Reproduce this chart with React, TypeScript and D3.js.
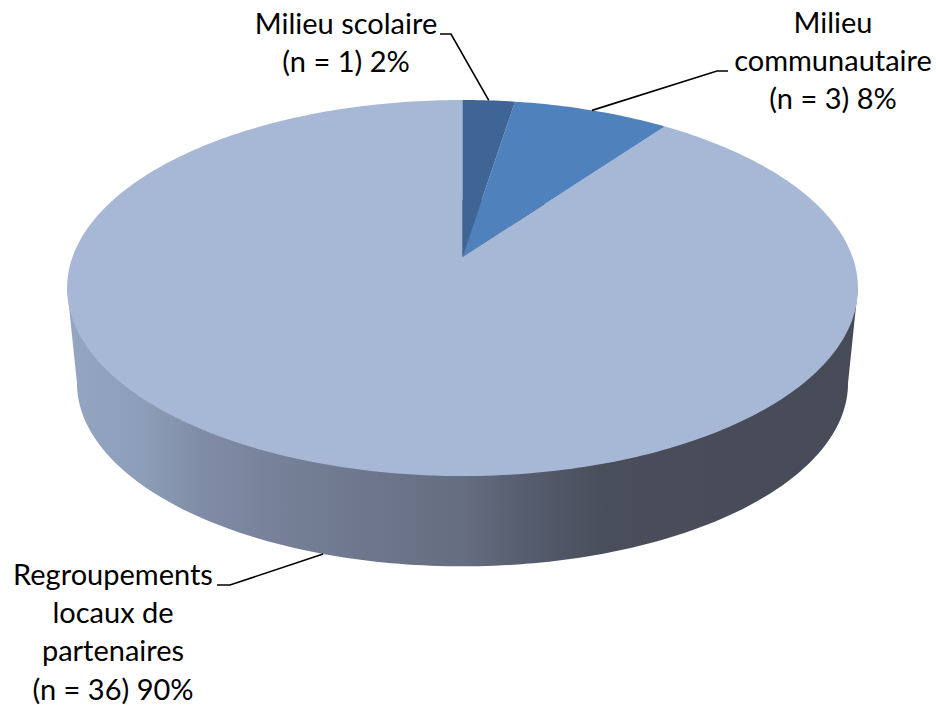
import React from "react";
import * as d3 from "d3";

const categories = ["Milieu scolaire", "Milieu communautaire", "Regroupements locaux de partenaires"];
const counts = [1, 3, 36];
const sliceColors = ["#3f6597", "#4f81bd", "#a7b7d6"];
const labelLines = [
  ["Milieu scolaire", "(n = 1) 2%"],
  ["Milieu", "communautaire", "(n = 3) 8%"],
  ["Regroupements", "locaux de", "partenaires", "(n = 36) 90%"],
];
const labelCenters = [[346, 34], [833, 33], [113, 585]];
const leaderElbows = [[[440, 34], [451, 34]], [[728, 71], [717, 71]], [[217, 585], [230, 585]]];
const sideStops: [number, string][] = [
  [0, "#93a6c2"], [0.1, "#8c9db8"], [0.17, "#808ca6"], [0.3, "#737d94"], [0.5, "#656d80"],
  [0.58, "#565d6e"], [0.68, "#494e5b"], [1, "#474b57"],
];

const W = 936;
const H = 705;

// Perspective view of a flat disc: the pie centre sits above the centre of the drawn ellipse.
const apex = { x: 462.5, y: 257 };
const tilt = 0.165;
const spanX = 390;
const rimTop = 100;
const depth = 95;
const bottomScale = 0.975;
const spanY = apex.y - rimTop * (1 + tilt);
const ellipseMid = 288;

function project(theta: number, sx = 1, dy = 0): [number, number] {
  const u = Math.sin(theta);
  const v = Math.cos(theta);
  const w = tilt * v + 1;
  const y0 = (apex.y - spanY * v) / w;
  return [
    apex.x + (sx * spanX * u) / w,
    ellipseMid + sx * (y0 - ellipseMid) + dy,
  ];
}

const line = d3.line();
const turn = d3.range(0, 361, 1).map((d) => (d * Math.PI) / 180);

export default function App() {
  const arcs = d3.pie<number>().sort(null)(counts);
  const midAngle = (i: number) => (arcs[i].startAngle + arcs[i].endAngle) / 2;

  const bottomRim = turn.map((t) => project(t, bottomScale, depth));
  const widest = Math.acos(-tilt);
  const wall = [
    project(widest), project(widest, bottomScale, depth),
    project(-widest, bottomScale, depth), project(-widest),
  ] as [number, number][];

  const wedgePath = (a: d3.PieArcDatum<number>) => {
    const n = Math.max(2, Math.ceil((a.endAngle - a.startAngle) * 60));
    const pts = d3.range(n + 1).map((i) => project(a.startAngle + ((a.endAngle - a.startAngle) * i) / n));
    return line([[apex.x, apex.y], ...pts]) + "Z";
  };

  const anchors: [number, number][] = [
    project(midAngle(0)),
    project(midAngle(1)),
    project(midAngle(2), bottomScale, depth),
  ];

  const xLeft = project(-widest)[0];
  const xRight = project(widest)[0];

  return (
    <svg width={W} height={H} style={{ position: "absolute", left: 0, top: 0, background: "#fff" }}>
      <defs>
        <linearGradient id="wall" gradientUnits="userSpaceOnUse" x1={xLeft} x2={xRight} y1={0} y2={0}>
          {sideStops.map(([o, c]) => <stop key={o} offset={o} stopColor={c} />)}
        </linearGradient>
      </defs>
      <path d={line(bottomRim) + "Z"} fill="url(#wall)" />
      <path d={line(wall) + "Z"} fill="url(#wall)" />
      {[2, 1, 0].map((i) => (
        <path key={categories[i]} d={wedgePath(arcs[i])} fill={sliceColors[i]} />
      ))}
      {anchors.map((p, i) => (
        <path
          key={i}
          d={line([leaderElbows[i][0] as [number, number], leaderElbows[i][1] as [number, number], p]) ?? ""}
          fill="none"
          stroke="#000"
          strokeWidth={1.6}
        />
      ))}
      {labelLines.map((rows, i) => (
        <text key={i} textAnchor="middle" fontFamily="Lato" fontSize={29} fill="#000">
          {rows.map((r, j) => (
            <tspan key={r} x={labelCenters[i][0]} y={labelCenters[i][1] + j * 38.2}>{r}</tspan>
          ))}
        </text>
      ))}
    </svg>
  );
}
